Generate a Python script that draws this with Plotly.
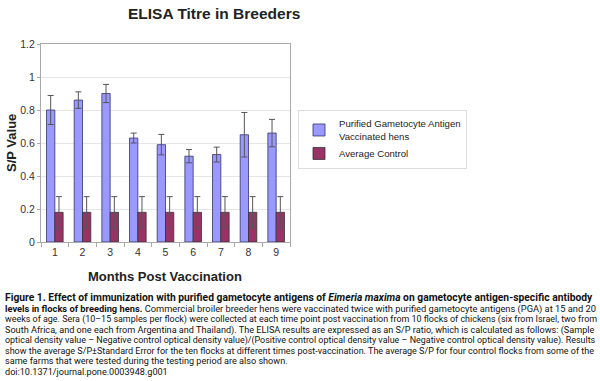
import plotly.graph_objects as go

months = ["1", "2", "3", "4", "5", "6", "7", "8", "9"]
vaccinated = [0.80, 0.86, 0.90, 0.63, 0.59, 0.52, 0.53, 0.65, 0.66]
vaccinated_err = [0.088, 0.05, 0.055, 0.03, 0.062, 0.04, 0.045, 0.135, 0.083]
control = [0.18] * 9
control_err = [0.095] * 9

caption_lines = [
    "<b>Figure 1. Effect of immunization with purified gametocyte antigens of <i>Eimeria maxima</i> on gametocyte antigen-specific antibody</b>",
    "<b>levels in flocks of breeding hens.</b> Commercial broiler breeder hens were vaccinated twice with purified gametocyte antigens (PGA) at 15 and 20",
    "weeks of age. Sera (10–15 samples per flock) were collected at each time point post vaccination from 10 flocks of chickens (six from Israel, two from",
    "South Africa, and one each from Argentina and Thailand). The ELISA results are expressed as an S/P ratio, which is calculated as follows: (Sample",
    "optical density value – Negative control optical density value)/(Positive control optical density value – Negative control optical density value). Results",
    "show the average S/P±Standard Error for the ten flocks at different times post-vaccination. The average S/P for four control flocks from some of the",
    "same farms that were tested during the testing period are also shown.",
    "doi:10.1371/journal.pone.0003948.g001",
]
caption_sizes = [10.3, 9.3, 8.95, 9.15, 8.95, 9.0, 9.1, 9.1]
caption_rows = [297, 309, 319.5, 330, 340.5, 351, 361.5, 372]

L, R, T, B = 41, 290, 44, 242
PW, PH = R - L, B - T


def px_x(x):
    return (x - L) / PW


def px_y(y):
    return (B - y) / PH


fig = go.Figure()
fig.add_trace(go.Bar(
    x=months, y=vaccinated, name="Purified Gametocyte Antigen<br>Vaccinated hens",
    marker=dict(color="#9999FF", line=dict(color="#333366", width=0.8)),
    error_y=dict(type="data", array=vaccinated_err, color="#555555", thickness=1, width=3),
))
fig.add_trace(go.Bar(
    x=months, y=control, name="Average Control",
    marker=dict(color="#993366", line=dict(color="#333333", width=0.8)),
    error_y=dict(type="data", array=control_err, color="#555555", thickness=1, width=3),
))

annotations = []
for i, line in enumerate(caption_lines):
    annotations.append(dict(
        text=line, xref="paper", yref="paper", x=px_x(3),
        y=px_y(caption_rows[i]), xanchor="left", yanchor="middle",
        showarrow=False,
        font=dict(family="Liberation Sans Narrow, Arial Narrow, Roboto, sans-serif",
                  size=caption_sizes[i], color="#111111"),
        align="left",
    ))
annotations.append(dict(
    text="<b>S/P Value</b>", xref="paper", yref="paper", x=px_x(11), y=px_y(143),
    xanchor="center", yanchor="middle", textangle=-90, showarrow=False,
    font=dict(family="Arial, Liberation Sans", size=13, color="#222222"),
))
annotations.append(dict(
    text="<b>Months Post Vaccination</b>", xref="paper", yref="paper", x=px_x(165), y=px_y(276),
    xanchor="center", yanchor="middle", showarrow=False,
    font=dict(family="Arial, Liberation Sans", size=13, color="#222222"),
))
annotations.append(dict(
    text="<b>ELISA Titre in Breeders</b>", xref="paper", yref="paper", x=px_x(214), y=px_y(13),
    xanchor="center", yanchor="middle", showarrow=False,
    font=dict(family="Arial, Liberation Sans", size=15.5, color="#222222"),
))

fig.update_layout(
    width=600, height=381,
    margin=dict(l=L, r=600 - R, t=T, b=381 - B),
    paper_bgcolor="white", plot_bgcolor="white",
    barmode="group", bargap=0.4, bargroupgap=0,
    font=dict(family="Arial, Liberation Sans", size=10, color="#333333"),
    xaxis=dict(type="category", showline=True, linecolor="#aaaaaa", linewidth=1, mirror=True,
               ticks="outside", tickson="boundaries", ticklen=4, tickcolor="#aaaaaa",
               automargin=False, tickfont=dict(size=10.5)),
    yaxis=dict(range=[0, 1.2], dtick=0.2, showline=True, linecolor="#aaaaaa", linewidth=1, mirror=True,
               showgrid=True, gridcolor="#e6e6e6", zeroline=False,
               ticks="outside", ticklen=3, tickcolor="#aaaaaa", tickformat="~g",
               automargin=False, tickfont=dict(size=10.5)),
    legend=dict(x=px_x(298), y=px_y(110), xanchor="left", yanchor="top",
                bordercolor="#dddddd", borderwidth=1, bgcolor="white",
                font=dict(size=9.6, color="#222222"), tracegroupgap=1, itemwidth=30),
    annotations=annotations,
)

fig.write_html("out.html", config={"displayModeBar": False},
               post_script="document.body.style.margin='0';document.body.style.overflow='hidden';")
